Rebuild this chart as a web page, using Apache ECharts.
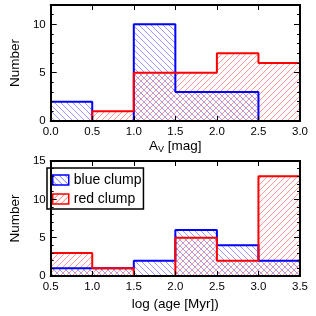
<!DOCTYPE html>
<html><head><meta charset="utf-8">
<script src="https://cdn.jsdelivr.net/npm/echarts@6/dist/echarts.min.js"></script>
<style>html,body{margin:0;padding:0;background:#fff}#c{width:316px;height:316px}</style>
</head><body><div id="c"></div>
<script>
// ---- data ----
const avEdges = [0, 0.5, 1.0, 1.5, 2.0, 2.5, 3.0];
const avBlue = [2, 0, 10, 3, 3, 0];
const avRed = [0, 1, 5, 5, 7, 6];
const ageEdges = [0.5, 1.0, 1.5, 2.0, 2.5, 3.0, 3.5];
const ageBlue = [1, 1, 2, 6, 4, 2];
const ageRed = [3, 1, 0, 5, 2, 13];
const seriesNames = ['blue clump', 'red clump'];
const avTicks = [0, 5, 10];
const ageTicks = [0, 5, 10, 15];

const HATCH = 6;
function hatchPattern(color, dir) {
  const s = HATCH, c = document.createElement('canvas');
  c.width = s; c.height = s;
  const g = c.getContext('2d');
  g.strokeStyle = color; g.lineWidth = 1;
  for (let k = -1; k <= 1; k++) {
    g.beginPath();
    if (dir === 'back') { g.moveTo(k * s, 0); g.lineTo(k * s + s, s); }
    else { g.moveTo(k * s, s); g.lineTo(k * s + s, 0); }
    g.stroke();
  }
  return { image: c, repeat: 'repeat' };
}
const blueHatch = '#7070ff';
const redHatch = '#ff7070';

function hatchLines(x0, y0, x1, y1, dir) {
  const segs = [];
  const s = HATCH;
  if (dir === 'back') { // x - y = c
    const cMin = Math.ceil((x0 - y1) / s) * s, cMax = x1 - y0;
    for (let c = cMin; c <= cMax; c += s) {
      const a = Math.max(x0, y0 + c), b = Math.min(x1, y1 + c);
      if (b > a) segs.push([a, a - c, b, b - c]);
    }
  } else { // x + y = c
    const cMin = Math.ceil((x0 + y0) / s) * s, cMax = x1 + y1;
    for (let c = cMin; c <= cMax; c += s) {
      const a = Math.max(x0, c - y1), b = Math.min(x1, c - y0);
      if (b > a) segs.push([a, c - a, b, c - b]);
    }
  }
  return segs;
}

function stepData(edges, vals) {
  const d = vals.map((v, i) => [edges[i], v]);
  d.push([edges[edges.length - 1], vals[vals.length - 1]]);
  return d;
}
function binData(edges, vals) {
  return vals.map((v, i) => [edges[i], edges[i + 1], v]);
}

const font = 'Liberation Sans, Arial, sans-serif';
const grids = [
  { left: 42, right: 16, top: 5, height: 116 },
  { left: 42, right: 16, top: 161, height: 115 }
];
function xAx(gi, min, max, pos, name, nameGap) {
  return {
    type: 'value', gridIndex: gi, min: min, max: max, interval: 0.5, position: pos, z: 10,
    axisLine: { show: true, onZero: false, lineStyle: { color: '#000', width: 2 } },
    axisTick: { show: true, inside: true, length: 5, lineStyle: { color: '#000', width: 1 } },
    axisLabel: { show: pos === 'bottom', color: '#000', fontSize: 11.5, fontFamily: font, margin: 5,
      formatter: v => v.toFixed(1) },
    splitLine: { show: false },
    name: pos === 'bottom' ? name : '', nameLocation: 'middle', nameGap: nameGap,
    nameTextStyle: { color: '#000', fontSize: 13.5, fontFamily: font,
      rich: { sub: { fontSize: 9, verticalAlign: 'bottom', padding: [6, 0, 0, 0], fontFamily: font, color: '#000' } } }
  };
}
function yAx(gi, max, interval, pos, len, labels, ticks) {
  return {
    type: 'value', gridIndex: gi, min: 0, max: max, interval: interval, position: pos, z: 10,
    axisLine: { show: true, lineStyle: { color: '#000', width: 2 } },
    axisTick: { show: true, inside: true, length: len, lineStyle: { color: '#000', width: 1 } },
    axisLabel: { show: labels, color: '#000', fontSize: 11.5, fontFamily: font, margin: 5,
      formatter: v => ticks.indexOf(v) >= 0 ? String(v) : '' },
    splitLine: { show: false },
    name: labels ? 'Number' : '', nameLocation: 'middle', nameGap: 24, nameRotate: 90,
    nameTextStyle: { color: '#000', fontSize: 13.5, fontFamily: font }
  };
}

const xAxis = [
  xAx(0, 0, 3, 'bottom', 'A{sub|V} [mag]', 18),
  xAx(0, 0, 3, 'top', '', 0),
  xAx(1, 0.5, 3.5, 'bottom', 'log (age [Myr])', 21),
  xAx(1, 0.5, 3.5, 'top', '', 0)
];
const yAxis = [
  yAx(0, 12, 5, 'left', 6, true, avTicks),
  yAx(0, 12, 1, 'left', 3, false, avTicks),
  yAx(0, 12, 5, 'right', 6, false, avTicks),
  yAx(0, 12, 1, 'right', 3, false, avTicks),
  yAx(1, 15, 5, 'left', 6, true, ageTicks),
  yAx(1, 15, 1, 'left', 3, false, ageTicks),
  yAx(1, 15, 5, 'right', 6, false, ageTicks),
  yAx(1, 15, 1, 'right', 3, false, ageTicks)
];

function histFill(name, xi, yi, edges, vals, color, dir) {
  return {
    type: 'custom', name: name, xAxisIndex: xi, yAxisIndex: yi, silent: true, z: 1,
    data: binData(edges, vals),
    encode: { x: [0, 1], y: 2 },
    itemStyle: { color: color },
    renderItem: function (params, api) {
      const p0 = api.coord([api.value(0), api.value(2)]);
      const p1 = api.coord([api.value(1), 0]);
      const segs = hatchLines(p0[0], p0[1], p1[0], p1[1], dir);
      return { type: 'group', children: segs.map(s => ({
        type: 'line', shape: { x1: s[0], y1: s[1], x2: s[2], y2: s[3] },
        style: { stroke: color, fill: null, lineWidth: 0.9, opacity: 0.8 } })) };
    }
  };
}
function histLine(name, xi, yi, edges, vals, color) {
  return {
    type: 'line', name: name, xAxisIndex: xi, yAxisIndex: yi, step: 'end', z: 3,
    data: stepData(edges, vals), symbol: 'none', silent: true,
    lineStyle: { color: color, width: 2 }, itemStyle: { color: color }
  };
}

const chart = echarts.init(document.getElementById('c'), null, { renderer: 'canvas' });
chart.setOption({
  animation: false,
  grid: grids,
  xAxis: xAxis,
  yAxis: yAxis,
  legend: {
    orient: 'vertical', left: 47, top: 168, padding: [5, 2, 3, 5], itemGap: 5,
    itemWidth: 16, itemHeight: 10, borderColor: '#000', borderWidth: 1.5, borderRadius: 0,
    textStyle: { color: '#000', fontSize: 14, fontFamily: font },
    data: [
      { name: seriesNames[0], icon: 'rect', itemStyle: { color: hatchPattern(blueHatch, 'back'), borderColor: '#0000ff', borderWidth: 1.5 } },
      { name: seriesNames[1], icon: 'rect', itemStyle: { color: hatchPattern(redHatch, 'fwd'), borderColor: '#ff0000', borderWidth: 1.5 } }
    ]
  },
  series: [
    histFill(seriesNames[0], 0, 0, avEdges, avBlue, blueHatch, 'back'),
    histFill(seriesNames[1], 0, 0, avEdges, avRed, redHatch, 'fwd'),
    histFill(seriesNames[0], 2, 4, ageEdges, ageBlue, blueHatch, 'back'),
    histFill(seriesNames[1], 2, 4, ageEdges, ageRed, redHatch, 'fwd'),
    histLine(seriesNames[0], 0, 0, avEdges, avBlue, '#0000ff'),
    histLine(seriesNames[1], 0, 0, avEdges, avRed, '#ff0000'),
    histLine(seriesNames[0], 2, 4, ageEdges, ageBlue, '#0000ff'),
    histLine(seriesNames[1], 2, 4, ageEdges, ageRed, '#ff0000')
  ]
});
</script></body></html>
